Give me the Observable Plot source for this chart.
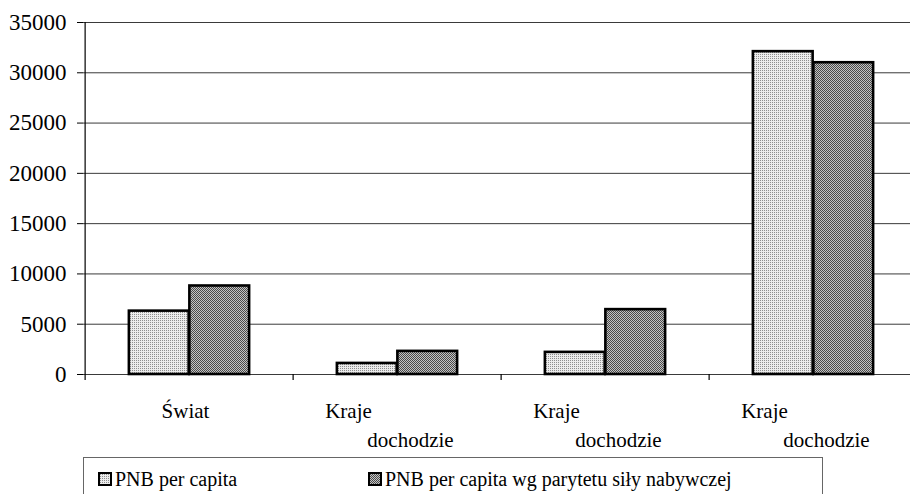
<!DOCTYPE html>
<html>
<head>
<meta charset="utf-8">
<script src="https://cdn.jsdelivr.net/npm/d3@7"></script>
<script src="https://cdn.jsdelivr.net/npm/@observablehq/plot@0.6"></script>
<style>
html, body { margin: 0; padding: 0; background: #fff; width: 910px; height: 494px; overflow: hidden; }
#chart { position: relative; width: 910px; height: 494px; overflow: hidden; color: #000; }
#plot { width: 930px; }
#plot svg { max-width: none !important; }
#defs { position: absolute; width: 0; height: 0; }
#legend { position: absolute; left: 83px; top: 457px; width: 740px; height: 60px; border: 1px solid #666; box-sizing: border-box; }
.item { position: absolute; top: 11px; display: flex; align-items: center; font-size: 20px; line-height: 20px; white-space: nowrap; }
.sw { width: 14px; height: 14px; margin-right: 3px; display: block; }
</style>
</head>
<body>
<div id="chart">
<svg id="defs" aria-hidden="true">
  <defs>
    <pattern id="patLight" patternUnits="userSpaceOnUse" width="2" height="2">
      <rect width="2" height="2" fill="#ececec"></rect>
      <rect width="1" height="1" fill="#8e8e8e"></rect>
    </pattern>
    <pattern id="patDark" patternUnits="userSpaceOnUse" width="2" height="2">
      <rect width="2" height="2" fill="#c4c4c4"></rect>
      <rect width="1" height="1" fill="#4a4a4a"></rect>
      <rect x="1" y="1" width="1" height="1" fill="#4a4a4a"></rect>
    </pattern>
  </defs>
</svg>
<div id="plot"></div>
<div id="legend"></div>
</div>
<script>
// ---- data ----
const categories = ["g1", "g2", "g3", "g4"];
const labelLine1 = ["Świat", "Kraje", "Kraje", "Kraje"];
const labelLine2 = ["", "dochodzie", "dochodzie", "dochodzie"];
const series = ["PNB per capita", "PNB per capita wg parytetu siły nabywczej"];
const pnbPerCapita = [6300, 1100, 2200, 32100];
const pnbPPP = [8800, 2300, 6450, 31000];
const yTicks = [0, 5000, 10000, 15000, 20000, 25000, 30000, 35000];

// ---- pick an installed serif font ----
function pickFont(cands) {
  const c = document.createElement("canvas").getContext("2d");
  const probe = "mmmmmwwwiiilll PNB Świat 35000";
  const base = {};
  ["monospace", "sans-serif"].forEach(b => { c.font = "40px " + b; base[b] = c.measureText(probe).width; });
  for (const f of cands) {
    let ok = false;
    for (const b of ["monospace", "sans-serif"]) {
      c.font = `40px "${f}", ${b}`;
      if (Math.abs(c.measureText(probe).width - base[b]) > 0.5) ok = true;
    }
    if (ok) return f;
  }
  return null;
}
const picked = pickFont(["Liberation Serif", "Tinos", "Times New Roman", "Times", "DejaVu Serif", "Noto Serif", "FreeSerif"]);
const FONT = (picked ? `"${picked}", ` : "") + "serif";
document.getElementById("chart").style.fontFamily = FONT;

// ---- layout ----
const W = 930, H = 456;
const mL = 83, mR = 12, mT = 22, mB = 82;
const step = (W - mL - mR) / categories.length;
const half = step / 2;
const barW = 60.5;

const rows = categories.map((c, i) => ({cat: c, a: pnbPerCapita[i], b: pnbPPP[i], l1: labelLine1[i], l2: labelLine2[i]}));
const single = rows.filter(r => r.l2 === "");
const double = rows.filter(r => r.l2 !== "");

const fills = ["url(#patLight)", "url(#patDark)"];

const chart = Plot.plot({
  width: W,
  height: H,
  marginLeft: mL,
  marginRight: mR,
  marginTop: mT,
  marginBottom: mB,
  style: {fontFamily: FONT, fontSize: "23px", color: "#000", background: "transparent", overflow: "visible", maxWidth: "none"},
  x: {type: "band", domain: categories, padding: 0, axis: null},
  y: {domain: [0, 35000], ticks: yTicks, tickFormat: d3.format("d"), tickSize: 6, tickPadding: 11, label: null},
  marks: [
    Plot.ruleY(yTicks, {stroke: "#3a3a3a", strokeWidth: 1}),
    Plot.barY(rows, {x: "cat", y: "a", fill: fills[0], stroke: "#000", strokeWidth: 2.6, insetLeft: half - barW, insetRight: half}),
    Plot.barY(rows, {x: "cat", y: "b", fill: fills[1], stroke: "#000", strokeWidth: 2.6, insetLeft: half, insetRight: half - barW}),
    Plot.ruleX([categories[0]], {x: d => d, dx: -half, y1: 0, y2: 35000, insetTop: 6, stroke: "#000", strokeWidth: 1.2}),
    Plot.ruleX(categories.slice(1), {x: d => d, dx: -half, y1: 0, y2: 0, insetTop: 6, stroke: "#000", strokeWidth: 1.2}),
    Plot.text(single, {x: "cat", y: 0, text: "l1", dx: -4, dy: 37, fontSize: 21, fill: "#000"}),
    Plot.text(double, {x: "cat", y: 0, text: "l1", dx: -49, dy: 37, fontSize: 21, fill: "#000"}),
    Plot.text(double, {x: "cat", y: 0, text: "l2", dx: 13, dy: 66, fontSize: 21, fill: "#000"})
  ]
});
document.getElementById("plot").appendChild(chart);

// ---- legend ----
const legend = document.getElementById("legend");
const legendX = [14, 284];
series.forEach((s, i) => {
  const item = document.createElement("div");
  item.className = "item";
  item.style.left = legendX[i] + "px";
  item.innerHTML = `<svg class="sw" width="14" height="14"><rect x="1" y="1" width="12" height="12" fill="${fills[i]}" stroke="#000" stroke-width="2"></rect></svg><span>${s}</span>`;
  legend.appendChild(item);
});
</script>
</body>
</html>
